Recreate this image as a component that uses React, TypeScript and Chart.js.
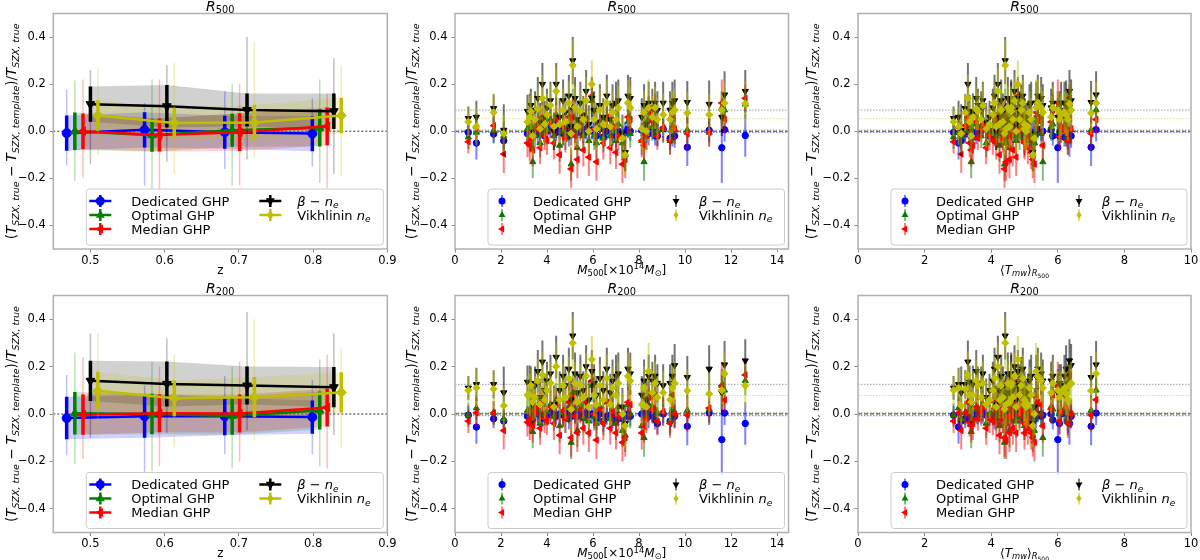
import React, { useEffect, useRef } from "react";
import { Chart, registerables } from "chart.js";

Chart.register(...registerables);

const FONT = "'DejaVu Sans', 'Liberation Sans', sans-serif";

// series order everywhere: Dedicated GHP, Optimal GHP, Median GHP, beta - n_e, Vikhlinin n_e
const COLORS = ["#0000ff", "#008000", "#ff0000", "#000000", "#bfbf00"];
const MARKERS = [
  { style: "circle", rot: 0 },
  { style: "triangle", rot: 0 },
  { style: "triangle", rot: 270 },
  { style: "triangle", rot: 180 },
  { style: "rectRot", rot: 0 },
];

// ---------- left column: binned in redshift ----------
const zDedicated = [0.468, 0.573, 0.681, 0.799];
const zOptimal = [0.479, 0.583, 0.691, 0.809];
const zMedian = [0.49, 0.593, 0.701, 0.819];
const zBeta = [0.5, 0.603, 0.711, 0.828];
const zVikhlinin = [0.51, 0.613, 0.721, 0.838];

const binMean500 = [
  [-0.008, 0.006, -0.004, -0.01],
  [0.0, -0.017, 0.004, 0.015],
  [0.0, -0.016, -0.004, 0.021],
  [0.115, 0.106, 0.09, 0.085],
  [0.067, 0.035, 0.037, 0.067],
];
const binStd500 = [
  [0.075, 0.075, 0.07, 0.075],
  [0.08, 0.07, 0.07, 0.08],
  [0.075, 0.07, 0.08, 0.08],
  [0.075, 0.09, 0.07, 0.075],
  [0.065, 0.065, 0.075, 0.075],
];
const binLow500 = [
  [-0.145, -0.23, -0.16, -0.15],
  [-0.21, -0.25, -0.23, -0.22],
  [-0.2, -0.27, -0.23, -0.24],
  [-0.14, -0.13, -0.12, -0.18],
  [-0.1, -0.18, -0.11, -0.19],
];
const binHigh500 = [
  [0.175, 0.12, 0.17, 0.14],
  [0.215, 0.22, 0.2, 0.22],
  [0.22, 0.22, 0.2, 0.16],
  [0.26, 0.28, 0.4, 0.31],
  [0.27, 0.29, 0.38, 0.28],
];

const binMean200 = [
  [-0.017, -0.01, -0.01, -0.013],
  [0.003, 0.0, -0.008, 0.015],
  [-0.003, 0.003, 0.002, 0.027],
  [0.14, 0.127, 0.12, 0.113],
  [0.098, 0.066, 0.071, 0.091],
];
const binStd200 = [
  [0.09, 0.09, 0.08, 0.07],
  [0.09, 0.085, 0.08, 0.08],
  [0.085, 0.08, 0.08, 0.08],
  [0.085, 0.095, 0.08, 0.085],
  [0.08, 0.075, 0.085, 0.085],
];
const binLow200 = [
  [-0.175, -0.25, -0.17, -0.17],
  [-0.21, -0.24, -0.23, -0.22],
  [-0.19, -0.22, -0.2, -0.23],
  [-0.1, -0.08, -0.07, -0.09],
  [-0.1, -0.14, -0.11, -0.14],
];
const binHigh200 = [
  [0.165, 0.12, 0.16, 0.145],
  [0.26, 0.22, 0.2, 0.23],
  [0.24, 0.2, 0.22, 0.25],
  [0.34, 0.32, 0.43, 0.34],
  [0.34, 0.25, 0.4, 0.28],
];

// ---------- individual clusters ----------
const massM500 = [0.58, 0.93, 1.68, 2.12, 3.15, 3.25, 3.3, 3.38, 3.48, 3.6, 3.7, 3.8, 3.9, 4.0, 4.15, 4.3, 4.4, 4.55, 4.7, 4.8, 4.95, 5.05, 5.12, 5.22, 5.32, 5.45, 5.58, 5.7, 5.82, 5.95, 6.05, 6.15, 6.3, 6.45, 6.6, 6.75, 6.85, 7.0, 7.1, 7.28, 7.4, 7.52, 7.62, 8.12, 8.22, 8.32, 8.42, 8.58, 8.7, 8.8, 9.05, 9.35, 9.45, 9.55, 10.1, 11.05, 11.6, 11.72, 12.62];
const tempMW = [2.87, 3.02, 3.22, 3.1, 3.35, 3.45, 3.6, 3.4, 3.7, 3.55, 3.85, 3.3, 3.95, 4.05, 3.75, 4.15, 4.2, 4.25, 4.3, 4.35, 4.1, 4.4, 4.42, 4.5, 4.55, 4.6, 4.65, 4.7, 4.75, 4.8, 4.85, 4.45, 4.9, 5.0, 4.95, 5.1, 5.15, 5.2, 4.6, 5.3, 5.25, 5.4, 5.5, 5.0, 5.55, 5.05, 5.35, 5.8, 5.85, 6.05, 6.1, 6.3, 6.2, 6.4, 7.0, 6.25, 6.0, 7.15, 6.35];

const dedicated500 = [-0.005, -0.05, -0.012, -0.04, -0.01, -0.015, 0.0, -0.02, 0.005, -0.01, 0.01, 0.005, -0.02, 0.0, 0.02, 0.035, -0.005, 0.005, -0.01, 0.01, -0.02, 0.01, 0.0, 0.015, -0.005, 0.005, -0.01, 0.01, 0.0, 0.005, 0.0, -0.02, 0.01, -0.025, 0.0, 0.005, -0.01, -0.02, 0.0, -0.015, -0.005, 0.01, 0.0, 0.005, 0.0, 0.01, -0.01, 0.005, -0.02, -0.02, 0.01, -0.03, -0.025, -0.02, -0.068, 0.004, -0.07, 0.007, -0.018];
const optimal500 = [-0.025, -0.005, 0.003, -0.02, 0.01, -0.03, 0.02, -0.13, -0.02, 0.03, -0.05, 0.04, -0.01, 0.005, 0.05, -0.02, 0.07, -0.06, 0.0, -0.02, 0.03, -0.14, 0.1, 0.01, -0.07, 0.04, -0.02, 0.06, -0.04, 0.13, -0.02, -0.05, 0.02, -0.03, 0.05, -0.02, 0.0, -0.04, 0.03, -0.05, -0.1, 0.04, -0.01, -0.04, -0.13, -0.02, 0.05, 0.02, 0.03, 0.0, 0.01, -0.04, 0.02, 0.005, 0.005, -0.005, 0.1, 0.09, 0.115];
const median500 = [-0.045, 0.015, 0.024, -0.097, -0.05, -0.06, -0.03, -0.08, 0.01, 0.04, -0.07, 0.06, -0.02, -0.04, 0.03, -0.05, 0.05, -0.1, 0.02, -0.03, 0.06, -0.16, 0.06, -0.02, -0.12, 0.02, -0.08, 0.05, -0.11, 0.15, 0.01, -0.13, 0.04, -0.05, 0.06, -0.07, 0.02, -0.09, -0.02, -0.14, -0.12, 0.06, 0.05, -0.04, -0.06, -0.02, 0.08, 0.04, 0.09, -0.02, 0.015, -0.04, 0.06, 0.01, -0.01, -0.005, 0.12, 0.05, 0.14];
const beta500 = [0.055, 0.06, 0.097, 0.005, 0.085, 0.08, 0.11, 0.0, 0.09, 0.14, 0.04, 0.2, 0.06, 0.1, 0.13, 0.0, 0.2, 0.06, 0.13, 0.08, 0.15, 0.02, 0.3, 0.14, 0.05, 0.12, 0.07, 0.17, 0.03, 0.14, 0.09, 0.04, 0.11, 0.06, 0.15, 0.05, 0.11, 0.12, 0.13, -0.01, -0.09, 0.15, 0.14, 0.06, 0.11, 0.03, 0.12, 0.1, 0.12, 0.09, 0.12, 0.09, 0.12, 0.13, 0.123, 0.115, 0.06, 0.155, 0.17];
const vikhlinin500 = [0.04, 0.02, 0.08, -0.01, 0.04, 0.06, 0.085, -0.02, 0.05, 0.095, 0.01, 0.14, 0.03, 0.07, 0.11, 0.02, 0.17, 0.03, 0.09, 0.04, 0.12, -0.01, 0.28, 0.1, 0.02, 0.085, 0.05, 0.13, 0.0, 0.2, 0.05, 0.01, 0.09, 0.03, 0.12, 0.02, 0.08, 0.05, 0.1, -0.03, -0.1, 0.12, 0.1, 0.01, 0.08, 0.0, 0.1, 0.06, 0.1, 0.05, 0.07, 0.05, 0.08, 0.09, 0.077, 0.07, 0.09, 0.12, 0.117];

const dedicatedErr = [0.04, 0.07, 0.04, 0.035, 0.045, 0.03, 0.04, 0.05, 0.03, 0.045, 0.04, 0.035, 0.03, 0.04, 0.045, 0.04, 0.035, 0.04, 0.05, 0.035, 0.045, 0.04, 0.03, 0.04, 0.05, 0.035, 0.04, 0.045, 0.03, 0.04, 0.035, 0.05, 0.04, 0.045, 0.035, 0.04, 0.05, 0.05, 0.035, 0.04, 0.045, 0.035, 0.04, 0.03, 0.045, 0.04, 0.05, 0.035, 0.04, 0.045, 0.04, 0.05, 0.04, 0.05, 0.08, 0.05, 0.15, 0.05, 0.09];
const optimalErr = [0.05, 0.05, 0.05, 0.06, 0.06, 0.06, 0.05, 0.07, 0.05, 0.06, 0.06, 0.06, 0.05, 0.06, 0.06, 0.06, 0.07, 0.07, 0.06, 0.06, 0.07, 0.07, 0.08, 0.06, 0.07, 0.06, 0.06, 0.07, 0.07, 0.07, 0.06, 0.07, 0.06, 0.06, 0.07, 0.06, 0.06, 0.07, 0.06, 0.07, 0.07, 0.07, 0.06, 0.06, 0.08, 0.06, 0.07, 0.06, 0.06, 0.06, 0.06, 0.06, 0.06, 0.06, 0.06, 0.06, 0.07, 0.06, 0.06];
const medianErr = [0.05, 0.06, 0.05, 0.08, 0.06, 0.07, 0.05, 0.07, 0.05, 0.06, 0.07, 0.07, 0.06, 0.06, 0.06, 0.07, 0.07, 0.08, 0.06, 0.06, 0.07, 0.08, 0.08, 0.06, 0.08, 0.06, 0.07, 0.07, 0.08, 0.07, 0.06, 0.08, 0.06, 0.07, 0.07, 0.07, 0.06, 0.07, 0.06, 0.08, 0.08, 0.07, 0.06, 0.07, 0.07, 0.06, 0.07, 0.06, 0.07, 0.06, 0.06, 0.06, 0.06, 0.06, 0.07, 0.06, 0.1, 0.06, 0.06];
const betaErr = [0.05, 0.07, 0.06, 0.11, 0.07, 0.08, 0.07, 0.08, 0.08, 0.09, 0.08, 0.09, 0.07, 0.08, 0.08, 0.08, 0.09, 0.08, 0.09, 0.08, 0.09, 0.08, 0.1, 0.09, 0.08, 0.09, 0.08, 0.09, 0.08, 0.09, 0.08, 0.08, 0.09, 0.08, 0.09, 0.08, 0.09, 0.09, 0.09, 0.08, 0.08, 0.09, 0.09, 0.08, 0.09, 0.08, 0.09, 0.08, 0.09, 0.08, 0.09, 0.08, 0.09, 0.09, 0.09, 0.1, 0.08, 0.1, 0.09];
const vikhlininErr = [0.06, 0.08, 0.08, 0.08, 0.08, 0.09, 0.08, 0.08, 0.09, 0.09, 0.08, 0.1, 0.08, 0.09, 0.09, 0.08, 0.1, 0.08, 0.09, 0.09, 0.09, 0.09, 0.11, 0.09, 0.09, 0.09, 0.09, 0.1, 0.09, 0.1, 0.09, 0.09, 0.09, 0.09, 0.1, 0.09, 0.09, 0.09, 0.09, 0.09, 0.09, 0.1, 0.09, 0.09, 0.09, 0.09, 0.12, 0.09, 0.09, 0.09, 0.09, 0.09, 0.09, 0.09, 0.09, 0.09, 0.08, 0.09, 0.09];

const dedicated200 = [-0.005, -0.055, -0.02, -0.03, -0.01, -0.01, -0.005, -0.02, 0.0, 0.005, -0.005, -0.02, -0.015, -0.005, 0.005, -0.005, -0.01, 0.0, -0.005, 0.005, -0.02, -0.01, 0.005, 0.0, -0.01, 0.0, -0.015, 0.005, -0.005, 0.0, -0.005, -0.02, 0.0, -0.03, -0.01, -0.005, -0.01, -0.03, -0.005, -0.02, -0.01, 0.0, -0.01, 0.0, -0.005, 0.005, -0.01, 0.0, -0.025, -0.04, 0.0, -0.03, 0.005, -0.01, -0.052, 0.004, -0.108, 0.004, -0.04];
const optimal200 = [-0.005, 0.025, 0.005, -0.02, 0.015, -0.02, 0.025, -0.075, 0.0, 0.02, -0.04, 0.05, 0.0, 0.01, 0.04, -0.01, 0.06, -0.05, 0.005, -0.02, 0.03, -0.12, 0.09, 0.02, -0.07, 0.04, -0.02, 0.05, -0.03, 0.12, -0.01, -0.04, 0.03, -0.03, 0.05, -0.02, 0.01, -0.04, 0.03, -0.07, -0.09, 0.04, 0.0, -0.05, -0.1, -0.01, 0.04, 0.03, 0.02, 0.0, 0.01, -0.03, 0.02, 0.005, 0.015, 0.02, 0.12, 0.1, 0.14];
const median200 = [-0.03, 0.005, 0.005, -0.07, -0.035, -0.04, -0.02, -0.05, 0.01, 0.03, -0.06, 0.05, -0.02, -0.03, 0.03, -0.04, 0.04, -0.09, 0.015, -0.02, 0.05, -0.1, 0.07, -0.01, -0.08, 0.02, -0.06, 0.05, -0.08, 0.14, 0.0, -0.11, 0.02, -0.04, 0.05, -0.06, 0.01, -0.08, -0.01, -0.12, -0.1, 0.05, 0.04, -0.08, -0.05, -0.02, 0.07, 0.02, 0.08, -0.03, 0.01, -0.04, 0.08, 0.0, -0.005, 0.025, 0.12, 0.06, 0.165];
const beta200 = [0.11, 0.125, 0.125, 0.09, 0.135, 0.125, 0.13, 0.04, 0.12, 0.18, 0.07, 0.22, 0.1, 0.14, 0.17, 0.04, 0.24, 0.1, 0.16, 0.12, 0.19, 0.06, 0.33, 0.17, 0.09, 0.16, 0.1, 0.2, 0.06, 0.18, 0.13, 0.08, 0.15, 0.1, 0.19, 0.09, 0.14, 0.16, 0.17, 0.03, -0.04, 0.19, 0.17, 0.08, 0.14, 0.06, 0.16, 0.14, 0.16, 0.13, 0.12, 0.13, 0.16, 0.205, 0.155, 0.19, 0.09, 0.208, 0.225];
const vikhlinin200 = [0.1, 0.11, 0.105, 0.035, 0.08, 0.08, 0.12, 0.05, 0.07, 0.14, 0.04, 0.165, 0.06, 0.1, 0.13, 0.03, 0.2, 0.06, 0.12, 0.07, 0.15, 0.02, 0.3, 0.13, 0.05, 0.12, 0.07, 0.16, 0.03, 0.23, 0.08, 0.04, 0.12, 0.06, 0.15, 0.04, 0.11, 0.08, 0.13, 0.0, -0.05, 0.16, 0.14, 0.04, 0.11, 0.03, 0.18, 0.09, 0.13, 0.07, 0.09, 0.06, 0.11, 0.13, 0.098, 0.085, 0.1, 0.17, 0.12];

// sample-average levels (dotted horizontal lines)
const meanLevel500 = [-0.005, 0.005, 0.0, 0.09, 0.053];
const meanLevel200 = [-0.007, 0.005, 0.002, 0.125, 0.078];

// tick labels
const yTicks = [-0.4, -0.2, 0.0, 0.2, 0.4];
const zTicks = [0.5, 0.6, 0.7, 0.8, 0.9];
const massTicks = [0, 2, 4, 6, 8, 10, 12, 14];
const tempTicks = [0, 2, 4, 6, 8, 10];

type Seg = { t: string; s?: number; i?: boolean };

const LEGEND_LABELS: Seg[][] = [
  [{ t: "Dedicated GHP" }],
  [{ t: "Optimal GHP" }],
  [{ t: "Median GHP" }],
  [{ t: "β", i: true }, { t: " − " }, { t: "n", i: true }, { t: "e", s: 1, i: true }],
  [{ t: "Vikhlinin " }, { t: "n", i: true }, { t: "e", s: 1, i: true }],
];

const Y_LABEL: Seg[] = [
  { t: "(" }, { t: "T", i: true }, { t: "SZX, true", s: 1, i: true },
  { t: " − " }, { t: "T", i: true }, { t: "SZX, template", s: 1, i: true },
  { t: ")/" }, { t: "T", i: true }, { t: "SZX, true", s: 1, i: true },
];

function rgba(hex: string, a: number) {
  const n = parseInt(hex.slice(1), 16);
  return `rgba(${(n >> 16) & 255},${(n >> 8) & 255},${n & 255},${a})`;
}

function drawRich(ctx: CanvasRenderingContext2D, segs: Seg[], x: number, y: number, size: number, align: string, rotate = false) {
  const parts = segs.map((sg) => {
    const lvl = sg.s || 0;
    const fs = lvl === 0 ? size : lvl === 2 ? size * 0.5 : size * 0.7;
    const dy = lvl === 1 ? size * 0.2 : lvl === 2 ? size * 0.34 : lvl === -1 ? -size * 0.35 : 0;
    const font = `${sg.i ? "italic " : ""}${fs}px ${FONT}`;
    ctx.font = font;
    return { t: sg.t, font, dy, w: ctx.measureText(sg.t).width };
  });
  const total = parts.reduce((a, p) => a + p.w, 0);
  ctx.save();
  ctx.translate(x, y);
  if (rotate) ctx.rotate(-Math.PI / 2);
  let cx = align === "center" ? -total / 2 : 0;
  ctx.fillStyle = "#000";
  ctx.textBaseline = "alphabetic";
  ctx.textAlign = "left";
  for (const p of parts) {
    ctx.font = p.font;
    ctx.fillText(p.t, cx, p.dy);
    cx += p.w;
  }
  ctx.restore();
}

function drawMarker(ctx: CanvasRenderingContext2D, k: number, r: number, x: number, y: number) {
  ctx.save();
  ctx.translate(x, y);
  ctx.rotate((MARKERS[k].rot * Math.PI) / 180);
  ctx.beginPath();
  const st = MARKERS[k].style;
  if (st === "circle") ctx.arc(0, 0, r, 0, Math.PI * 2);
  else if (st === "triangle") {
    ctx.moveTo(0, -r * 1.15);
    ctx.lineTo(r, r * 0.6);
    ctx.lineTo(-r, r * 0.6);
    ctx.closePath();
  } else {
    ctx.moveTo(0, -r);
    ctx.lineTo(r * 0.75, 0);
    ctx.lineTo(0, r);
    ctx.lineTo(-r * 0.75, 0);
    ctx.closePath();
  }
  ctx.fillStyle = COLORS[k];
  ctx.fill();
  ctx.restore();
}

function vline(ctx: CanvasRenderingContext2D, x: number, y1: number, y2: number, color: string, w: number) {
  ctx.beginPath();
  ctx.moveTo(x, y1);
  ctx.lineTo(x, y2);
  ctx.strokeStyle = color;
  ctx.lineWidth = w;
  ctx.stroke();
}

function buildConfig(col: number, row: number) {
  const r500 = row === 0;
  const yAxisW = [53.3, 55, 58][col];
  const padRight = [12.7, 11.5, 9][col];
  const padTop = row === 0 ? 13.5 : 15.5;
  const xAxisH = row === 0 ? 31 : 27.5;

  const datasets: any[] = [];
  const bars: Record<number, { k: number }> = {};
  let xMin = 0, xMax = 10, xt = tempTicks;
  let xLabel: Seg[] = [{ t: "z" }];
  const isZ = col === 0;

  if (isZ) {
    xMin = 0.45; xMax = 0.9; xt = zTicks;
    const zs = [zDedicated, zOptimal, zMedian, zBeta, zVikhlinin];
    const means = r500 ? binMean500 : binMean200;
    const sds = r500 ? binStd500 : binStd200;
    for (let k = 0; k < 5; k++) {
      datasets.push({
        type: "line",
        data: zs[k].map((z, j) => ({ x: z, y: means[k][j] + sds[k][j] })),
        borderWidth: 0, pointRadius: 0, fill: "+1",
        backgroundColor: rgba(COLORS[k], 0.18), order: 30 - k,
      });
      datasets.push({
        type: "line",
        data: zs[k].map((z, j) => ({ x: z, y: means[k][j] - sds[k][j] })),
        borderWidth: 0, pointRadius: 0, fill: false, order: 30 - k,
      });
    }
    for (let k = 0; k < 5; k++) {
      bars[datasets.length] = { k };
      datasets.push({
        type: "line",
        data: zs[k].map((z, j) => ({ x: z, y: means[k][j] })),
        borderColor: COLORS[k], backgroundColor: COLORS[k], borderWidth: 2.5,
        pointStyle: MARKERS[k].style, pointRotation: MARKERS[k].rot,
        pointRadius: k === 0 ? 4.5 : 5, pointBorderWidth: 1, pointBorderColor: COLORS[k],
        pointBackgroundColor: COLORS[k], fill: false, order: 5 - k, tension: 0,
      });
    }
  } else {
    const xs = col === 1 ? massM500 : tempMW;
    if (col === 1) {
      xMin = 0; xMax = 14.5; xt = massTicks;
      xLabel = [{ t: "M", i: true }, { t: "500", s: 1 }, { t: "[×10" }, { t: "14", s: -1 }, { t: "M", i: true }, { t: "⊙", s: 1 }, { t: "]" }];
    } else {
      xLabel = [{ t: "⟨" }, { t: "T", i: true }, { t: "mw", s: 1, i: true }, { t: "⟩" }, { t: "R", s: 1, i: true }, { t: "500", s: 2 }];
    }
    const vals = r500
      ? [dedicated500, optimal500, median500, beta500, vikhlinin500]
      : [dedicated200, optimal200, median200, beta200, vikhlinin200];
    for (let k = 0; k < 5; k++) {
      bars[datasets.length] = { k };
      datasets.push({
        type: "scatter",
        data: xs.map((x, i) => ({ x, y: vals[k][i] })),
        pointStyle: MARKERS[k].style, pointRotation: MARKERS[k].rot,
        pointRadius: k === 0 ? 3.2 : 3.6, pointBorderWidth: 1,
        pointBorderColor: COLORS[k], pointBackgroundColor: COLORS[k],
        showLine: false, order: 5 - k,
      });
    }
  }

  const errs = [dedicatedErr, optimalErr, medianErr, betaErr, vikhlininErr];
  const levels = r500 ? meanLevel500 : meanLevel200;

  const decor = {
    id: "decor" + col + row,
    beforeDatasetsDraw(chart: any) {
      const { ctx, chartArea: a, scales } = chart;
      ctx.save();
      if (isZ) {
        const y0 = scales.y.getPixelForValue(0);
        ctx.setLineDash([2, 2]);
        ctx.beginPath(); ctx.moveTo(a.left, y0); ctx.lineTo(a.right, y0);
        ctx.strokeStyle = "#333"; ctx.lineWidth = 1; ctx.stroke();
      } else {
        for (let k = 0; k < 5; k++) {
          const yy = scales.y.getPixelForValue(levels[k]);
          ctx.setLineDash(k === 2 ? [4, 2] : [1.5, 1.5]);
          ctx.beginPath(); ctx.moveTo(a.left, yy); ctx.lineTo(a.right, yy);
          ctx.strokeStyle = rgba(COLORS[k], k === 3 ? 0.3 : 0.45); ctx.lineWidth = 1.2; ctx.stroke();
        }
        const y0 = scales.y.getPixelForValue(0);
        ctx.setLineDash([4, 2]);
        ctx.beginPath(); ctx.moveTo(a.left, y0); ctx.lineTo(a.right, y0);
        ctx.strokeStyle = "rgba(0,0,0,0.5)"; ctx.lineWidth = 1; ctx.stroke();
      }
      ctx.restore();
    },
    beforeDatasetDraw(chart: any, args: any) {
      const spec = bars[args.index];
      if (!spec) return;
      const { ctx, chartArea: a, scales } = chart;
      const k = spec.k;
      const meta = chart.getDatasetMeta(args.index);
      const ys = scales.y;
      ctx.save();
      ctx.beginPath(); ctx.rect(a.left, a.top, a.right - a.left, a.bottom - a.top); ctx.clip();
      ctx.setLineDash([]);
      if (isZ) {
        const means = r500 ? binMean500 : binMean200;
        const sds = r500 ? binStd500 : binStd200;
        const lo = r500 ? binLow500 : binLow200;
        const hi = r500 ? binHigh500 : binHigh200;
        meta.data.forEach((pt: any, j: number) => {
          vline(ctx, pt.x, ys.getPixelForValue(lo[k][j]), ys.getPixelForValue(hi[k][j]), rgba(COLORS[k], 0.25), 1.5);
          vline(ctx, pt.x, ys.getPixelForValue(means[k][j] - sds[k][j]), ys.getPixelForValue(means[k][j] + sds[k][j]), COLORS[k], 3.5);
        });
      } else {
        const vals = meta.data;
        const ds = chart.data.datasets[args.index].data;
        vals.forEach((pt: any, i: number) => {
          const v = ds[i].y;
          vline(ctx, pt.x, ys.getPixelForValue(v - errs[k][i]), ys.getPixelForValue(v + errs[k][i]), rgba(COLORS[k], k === 3 ? 0.55 : 0.5), 2);
        });
      }
      ctx.restore();
    },
    afterDraw(chart: any) {
      const { ctx, chartArea: a } = chart;
      ctx.save();
      ctx.setLineDash([]);
      // frame
      ctx.strokeStyle = "#b0b0b0";
      ctx.lineWidth = 1.5;
      ctx.strokeRect(a.left, a.top, a.right - a.left, a.bottom - a.top);
      // title
      const cxm = (a.left + a.right) / 2;
      drawRich(ctx, [{ t: "R", i: true }, { t: r500 ? "500" : "200", s: 1 }], cxm, a.top - 3, 14, "center");
      // axis labels
      drawRich(ctx, xLabel, cxm, a.bottom + 24.5, 12, "center");
      drawRich(ctx, Y_LABEL, 16, (a.top + a.bottom) / 2, 13.5, "center", true);
      // legend
      const bx = a.left + 33;
      const bw = a.right - 4 - bx;
      const bh = 56;
      const by = a.bottom - 4 - bh;
      ctx.beginPath();
      ctx.roundRect(bx, by, bw, bh, 3);
      ctx.fillStyle = "rgba(255,255,255,0.8)";
      ctx.fill();
      ctx.strokeStyle = "#cccccc";
      ctx.lineWidth = 1;
      ctx.stroke();
      for (let k = 0; k < 5; k++) {
        const c2 = k >= 3;
        const ri = c2 ? k - 3 : k;
        const hx = bx + (c2 ? (isZ ? 184 : 188) : 14);
        const tx = bx + (c2 ? 211 : 45);
        const cy = by + 12 + ri * 14;
        if (isZ) {
          ctx.beginPath(); ctx.moveTo(hx - 11, cy); ctx.lineTo(hx + 11, cy);
          ctx.strokeStyle = COLORS[k]; ctx.lineWidth = 2.5; ctx.stroke();
          vline(ctx, hx, cy - 6, cy + 6, COLORS[k], 2.5);
          drawMarker(ctx, k, 4.5, hx, cy);
        } else {
          vline(ctx, hx, cy - 6, cy + 6, rgba(COLORS[k], 0.5), 2);
          drawMarker(ctx, k, 3.5, hx, cy);
        }
        drawRich(ctx, LEGEND_LABELS[k], tx, cy + 4.5, 13, "left");
      }
      ctx.restore();
    },
  };

  const fmtY = (v: number) => {
    const s = Math.abs(v).toFixed(1);
    return v < -1e-9 ? "−" + s : s;
  };

  return {
    type: isZ ? "line" : "scatter",
    data: { datasets },
    options: {
      responsive: false,
      animation: false,
      events: [],
      layout: { padding: { left: 0, top: padTop, right: padRight, bottom: 0 } },
      plugins: { legend: { display: false }, tooltip: { enabled: false }, title: { display: false } },
      scales: {
        x: {
          type: "linear",
          min: xMin,
          max: xMax,
          afterBuildTicks: (s: any) => { s.ticks = xt.map((v) => ({ value: v })); },
          afterFit: (s: any) => { s.height = xAxisH; s.paddingLeft = 0; s.paddingRight = 0; },
          grid: { display: true, drawOnChartArea: false, drawTicks: true, tickLength: 3.5, tickColor: "#888", lineWidth: 1 },
          border: { display: false },
          ticks: {
            color: "#000", padding: 1.5, maxRotation: 0, autoSkip: false,
            font: { family: FONT, size: 11.5 },
            callback: (v: number) => (isZ ? v.toFixed(1) : String(Math.round(v))),
          },
        },
        y: {
          type: "linear",
          position: "left",
          min: -0.5,
          max: 0.5,
          afterBuildTicks: (s: any) => { s.ticks = yTicks.map((v) => ({ value: v })); },
          afterFit: (s: any) => { s.width = yAxisW; s.paddingTop = 0; s.paddingBottom = 0; },
          grid: { display: true, drawOnChartArea: false, drawTicks: true, tickLength: 3.5, tickColor: "#888", lineWidth: 1 },
          border: { display: false },
          ticks: { color: "#000", padding: 4, font: { family: FONT, size: 11.5 }, callback: (v: number) => fmtY(v) },
        },
      },
    },
    plugins: [decor],
  };
}

function Panel({ col, row }: { col: number; row: number }) {
  const ref = useRef<HTMLCanvasElement | null>(null);
  useEffect(() => {
    if (!ref.current) return;
    const chart = new Chart(ref.current, buildConfig(col, row) as any);
    return () => chart.destroy();
  }, [col, row]);
  return (
    <canvas
      ref={ref}
      width={400}
      height={280}
      style={{ position: "absolute", left: col * 400, top: row * 280, width: 400, height: 280 }}
    />
  );
}

export default function App() {
  const panels = [];
  for (let row = 0; row < 2; row++) for (let col = 0; col < 3; col++) panels.push({ row, col });
  return (
    <div style={{ position: "absolute", left: 0, top: 0, width: 1200, height: 560, background: "#fff", overflow: "hidden" }}>
      {panels.map((p) => (
        <Panel key={`${p.row}-${p.col}`} col={p.col} row={p.row} />
      ))}
    </div>
  );
}
